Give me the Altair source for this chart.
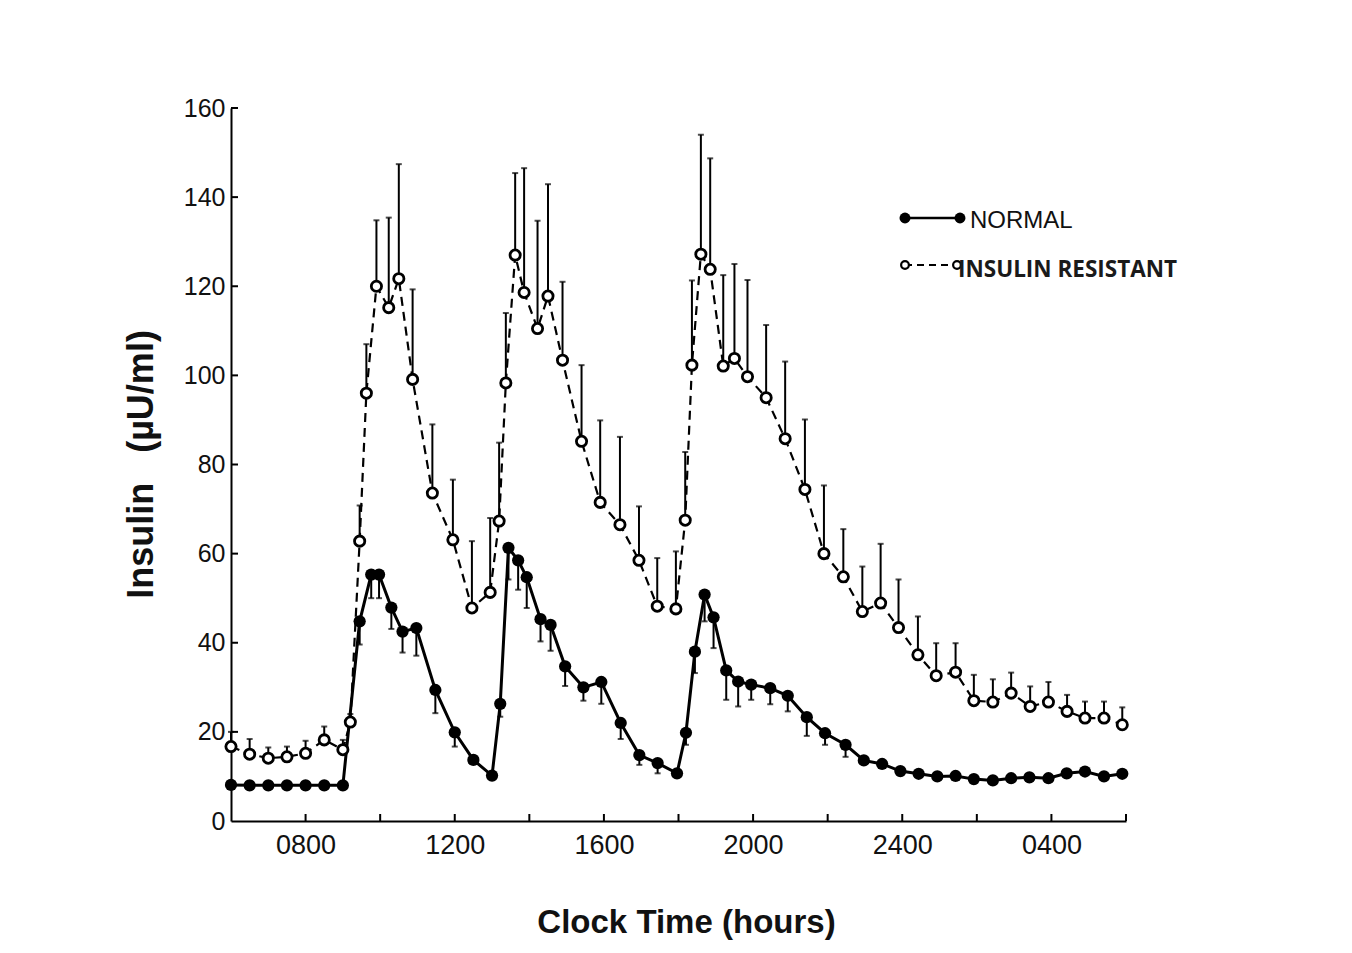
import altair as alt
import pandas as pd

# ---------------- data ----------------
series_names = ["NORMAL", "INSULIN RESISTANT"]

normal_hours = [6.0, 6.5, 7.0, 7.5, 8.0, 8.5, 9.0, 9.45, 9.76, 9.97, 10.3, 10.6, 10.97, 11.48,
                12.0, 12.5, 13.0, 13.22, 13.44, 13.7, 13.93, 14.3, 14.57, 14.96, 15.45, 15.93,
                16.45, 16.95, 17.44, 17.96, 18.2, 18.44, 18.7, 18.94, 19.28, 19.6, 19.95, 20.46,
                20.93, 21.44, 21.93, 22.48, 22.97, 23.46, 23.95, 24.44, 24.94, 25.43, 25.92,
                26.43, 26.92, 27.41, 27.92, 28.41, 28.9, 29.41, 29.9]
normal_insulin = [8.1, 8, 8, 8, 8, 8, 8, 44.8, 55.3, 55.3, 47.9, 42.5, 43.3, 29.4,
                  19.9, 13.7, 10.2, 26.3, 61.3, 58.5, 54.7, 45.3, 44, 34.7, 30, 31.2,
                  22, 14.8, 13, 10.7, 19.8, 38, 50.8, 45.7, 33.8, 31.3, 30.6, 29.8,
                  28.1, 23.3, 19.7, 17.1, 13.6, 12.8, 11.2, 10.6, 10, 10.1, 9.4,
                  9.1, 9.6, 9.8, 9.6, 10.7, 11.1, 10, 10.6]
normal_lower = [8.1, 8, 8, 8, 8, 8, 8, 39.6, 50, 50, 43.1, 37.8, 37.1, 24.2,
                16.7, 13.7, 10.2, 23.4, 54.2, 51.9, 47.8, 40.3, 38.2, 30.3, 27, 26.3,
                18.4, 12.6, 10.7, 10.7, 17.1, 33.2, 44.8, 38.8, 27.2, 25.7, 27.2, 26.2,
                24.6, 19.1, 17.1, 14.4, 13.6, 12.8, 11.2, 10.6, 10, 10.1, 9.4,
                9.1, 9.6, 9.8, 9.6, 10.7, 11.1, 10, 10.6]

ir_hours = [6.0, 6.5, 7.0, 7.5, 8.0, 8.5, 9.0, 9.2, 9.45, 9.63, 9.9, 10.23, 10.5, 10.87,
            11.4, 11.95, 12.46, 12.95, 13.19, 13.37, 13.62, 13.86, 14.22, 14.5, 14.89, 15.4,
            15.9, 16.43, 16.94, 17.43, 17.93, 18.18, 18.36, 18.6, 18.85, 19.2, 19.5, 19.85,
            20.35, 20.86, 21.39, 21.9, 22.42, 22.93, 23.42, 23.9, 24.42, 24.91, 25.43, 25.92,
            26.43, 26.92, 27.43, 27.92, 28.42, 28.9, 29.41, 29.9]
ir_insulin = [16.7, 15, 14.1, 14.4, 15.2, 18.2, 16, 22.2, 62.8, 96, 120, 115.2, 121.7, 99.1,
              73.6, 63.1, 47.8, 51.3, 67.3, 98.3, 127, 118.6, 110.5, 117.8, 103.4, 85.2,
              71.5, 66.5, 58.5, 48.2, 47.6, 67.5, 102.3, 127.2, 123.8, 102.1, 103.8, 99.7,
              95, 85.8, 74.4, 60, 54.8, 47, 48.9, 43.4, 37.3, 32.6, 33.4, 27,
              26.7, 28.7, 25.7, 26.7, 24.6, 23.1, 23.1, 21.6]
ir_upper = [20, 18.4, 16.5, 16.7, 18, 21.2, 18.2, 24, 70.8, 107, 134.8, 135.4, 147.4, 119.3,
            89, 76.6, 62.8, 68, 84.9, 114, 145.4, 146.5, 134.7, 142.9, 121, 102.3,
            89.9, 86.2, 70.6, 59, 60.5, 82.8, 121.3, 154, 148.7, 122.5, 125, 121.4,
            111.3, 103.1, 90.1, 75.3, 65.5, 57.1, 62.2, 54.2, 45.9, 39.9, 39.9, 32.8,
            31.8, 33.3, 30.2, 31.2, 28.3, 26.8, 26.8, 25.5]

x_tick_hours = [8, 10, 12, 14, 16, 18, 20, 22, 24, 26, 28, 30]
x_label_hours = [8, 12, 16, 20, 24, 28]
x_label_text = ["0800", "1200", "1600", "2000", "2400", "0400"]
y_tick_values = [0, 20, 40, 60, 80, 100, 120, 140, 160]

# ---------------- tables ----------------
normal_df = pd.DataFrame({"hour": normal_hours, "insulin": normal_insulin, "lower": normal_lower})
ir_df = pd.DataFrame({"hour": ir_hours, "insulin": ir_insulin, "upper": ir_upper})
normal_err = normal_df[normal_df["lower"] < normal_df["insulin"] - 0.05]
ir_err = ir_df[ir_df["upper"] > ir_df["insulin"] + 0.05]
xticks_df = pd.DataFrame({"hour": x_tick_hours})
yticks_df = pd.DataFrame({"insulin": [v for v in y_tick_values if v > 0]})

W, H = 895, 713
FONT = "Liberation Sans"

label_expr = "".join(f"datum.value == {h} ? '{t}' : " for h, t in zip(x_label_hours, x_label_text)) + "''"

xscale = alt.Scale(domain=[6, 30], nice=False, zero=False)
yscale = alt.Scale(domain=[0, 160], nice=False)

xaxis = alt.Axis(values=x_label_hours, labelExpr=label_expr, tickSize=0, labelPadding=11,
                 labelFontSize=27, labelFont=FONT, labelColor="#111", grid=False,
                 domainColor="black", domainWidth=2, labelFlush=False,
                 title="Clock Time (hours)", titleFont=FONT, titleFontSize=33,
                 titleFontWeight="bold", titleColor="#111", titleX=455, titleY=111,
                 titleAlign="center", titleBaseline="alphabetic")
yaxis = alt.Axis(values=y_tick_values, tickSize=0, labelPadding=6,
                 labelFontSize=25, labelFont=FONT, labelColor="#111", grid=False,
                 domainColor="black", domainWidth=2, labelFlush=False,
                 title="Insulin\u00a0\u00a0\u00a0(\u00b5U/ml)", titleFont=FONT, titleFontSize=36,
                 titleFontWeight="bold", titleColor="#111", titleAngle=270,
                 titleX=-79, titleY=356, titleAlign="center", titleBaseline="alphabetic")


def X(field):
    return alt.X(f"{field}:Q", scale=xscale, axis=xaxis)


def Y(field):
    return alt.Y(f"{field}:Q", scale=yscale, axis=yaxis)


# error bars
ir_bars = alt.Chart(ir_err).mark_rule(color="black", strokeWidth=2).encode(
    x=X("hour"), y=Y("insulin"), y2=alt.Y2("upper:Q"))
ir_caps = alt.Chart(ir_err).mark_tick(color="black", orient="horizontal", size=6, thickness=2).encode(
    x=X("hour"), y=Y("upper"))
n_bars = alt.Chart(normal_err).mark_rule(color="black", strokeWidth=2).encode(
    x=X("hour"), y=Y("lower"), y2=alt.Y2("insulin:Q"))
n_caps = alt.Chart(normal_err).mark_tick(color="black", orient="horizontal", size=6, thickness=2).encode(
    x=X("hour"), y=Y("lower"))

# lines and markers
ir_line = alt.Chart(ir_df).mark_line(color="black", strokeWidth=2.2, strokeDash=[9, 6]).encode(
    x=X("hour"), y=Y("insulin"))
n_line = alt.Chart(normal_df).mark_line(color="black", strokeWidth=3).encode(
    x=X("hour"), y=Y("insulin"))
n_pts = alt.Chart(normal_df).mark_point(shape="circle", filled=True, color="black", opacity=1, size=150).encode(
    x=X("hour"), y=Y("insulin"))
ir_pts = alt.Chart(ir_df).mark_point(shape="circle", filled=False, fill="white", fillOpacity=1,
                                     stroke="black", strokeWidth=2.8, opacity=1, size=105).encode(
    x=X("hour"), y=Y("insulin"))

# inward ticks
x_tick_marks = alt.Chart(xticks_df).mark_rule(color="black", strokeWidth=2).encode(
    x=X("hour"), y=alt.value(H), y2=alt.value(H - 7))
y_tick_marks = alt.Chart(yticks_df).mark_rule(color="black", strokeWidth=2).encode(
    y=Y("insulin"), x=alt.value(0), x2=alt.value(7))

# legend
one = pd.DataFrame({"k": [0]})
leg_n_line = alt.Chart(one).mark_rule(color="black", strokeWidth=2.5).encode(
    x=alt.value(674), x2=alt.value(729), y=alt.value(110))
leg_n_p1 = alt.Chart(one).mark_point(shape="circle", filled=True, color="black", opacity=1, size=120).encode(
    x=alt.value(674), y=alt.value(110))
leg_n_p2 = alt.Chart(one).mark_point(shape="circle", filled=True, color="black", opacity=1, size=120).encode(
    x=alt.value(729), y=alt.value(110))
leg_n_txt = alt.Chart(one).mark_text(text=series_names[0], font=FONT, fontSize=24, align="left",
                                     baseline="alphabetic", color="#111").encode(
    x=alt.value(739), y=alt.value(120))
leg_ir_line = alt.Chart(one).mark_rule(color="black", strokeWidth=2, strokeDash=[7, 5]).encode(
    x=alt.value(674), x2=alt.value(726), y=alt.value(157))
leg_ir_p1 = alt.Chart(one).mark_point(shape="circle", filled=False, fill="white", fillOpacity=1,
                                      stroke="black", strokeWidth=2.2, opacity=1, size=60).encode(
    x=alt.value(674), y=alt.value(157))
leg_ir_p2 = alt.Chart(one).mark_point(shape="circle", filled=False, fill="white", fillOpacity=1,
                                      stroke="black", strokeWidth=2.2, opacity=1, size=60).encode(
    x=alt.value(726), y=alt.value(157))
leg_ir_txt = alt.Chart(one).mark_text(text=series_names[1], font="Open Sans", fontSize=22.5,
                                      fontWeight="bold", align="left", baseline="alphabetic",
                                      color="#1a1a1a").encode(
    x=alt.value(727), y=alt.value(169))

chart = alt.layer(
    ir_bars, ir_caps, n_bars, n_caps, ir_line, n_line, n_pts, ir_pts,
    x_tick_marks, y_tick_marks,
    leg_n_line, leg_n_p1, leg_n_p2, leg_n_txt, leg_ir_line, leg_ir_p1, leg_ir_p2, leg_ir_txt,
).properties(
    width=W, height=H,
    autosize=alt.AutoSizeParams(type="none"),
    padding={"left": 223, "top": 100, "right": 200, "bottom": 120},
    background="white",
).configure_view(stroke=None)

chart.save("out.html", embed_options={"renderer": "svg", "actions": False})
